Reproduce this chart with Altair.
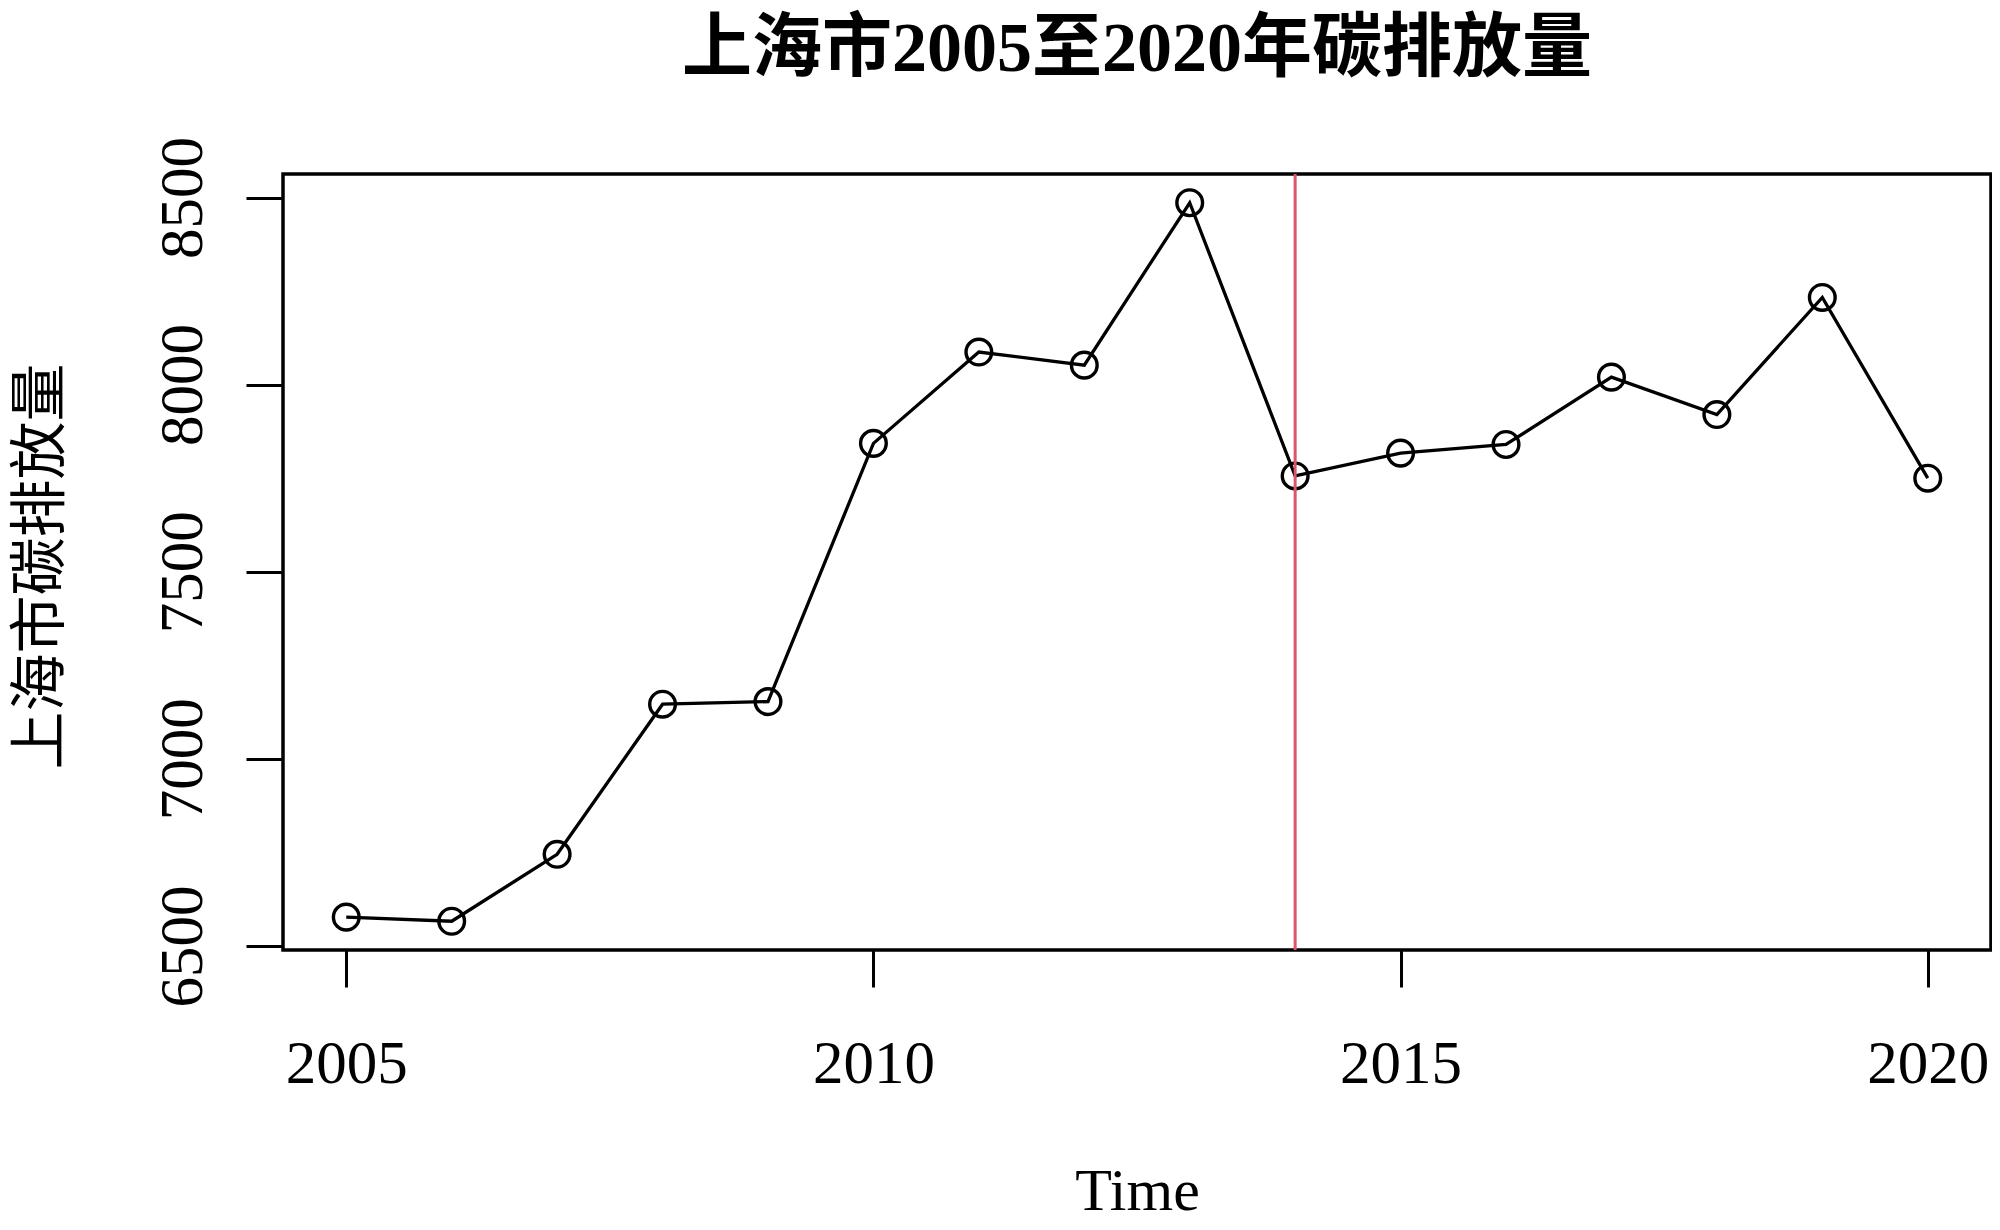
import altair as alt
import pandas as pd

years = [2005, 2006, 2007, 2008, 2009, 2010, 2011, 2012,
         2013, 2014, 2015, 2016, 2017, 2018, 2019, 2020]
emissions = [6577, 6566, 6745, 7146, 7153, 7843, 8087, 8052,
             8486, 7756, 7817, 7840, 8020, 7920, 8233, 7750]
x_ticks = [2005, 2010, 2015, 2020]
y_ticks = [6500, 7000, 7500, 8000, 8500]
break_year = 2014

title_text = "上海市2005至2020年碳排放量"
x_title = "Time"
y_title = "上海市碳排放量"

df = pd.DataFrame({"year": years, "value": emissions})
rule_df = pd.DataFrame({"year": [break_year]})

# R-style 4% axis extension
xr = max(years) - min(years)
yr = max(emissions) - min(emissions)
x_dom = [min(years) - 0.04 * xr, max(years) + 0.04 * xr]
y_dom = [min(emissions) - 0.04 * yr, max(emissions) + 0.04 * yr]

FONT = "Liberation Serif, Noto Sans CJK SC"

x_enc = alt.X(
    "year:Q",
    scale=alt.Scale(domain=x_dom, nice=False, zero=False),
    axis=alt.Axis(
        values=x_ticks, format="d", title=x_title, grid=False, domain=False,
        ticks=True, tickSize=37, tickWidth=3, tickColor="black",
        labelFont=FONT, labelFontSize=61, labelColor="black",
        labelPadding=95, labelBaseline="alphabetic", labelAlign="center",
        titleFont=FONT, titleFontSize=60, titleFontWeight="normal",
        titleColor="black", titleBaseline="alphabetic", titleAlign="center",
        titleX=854, titleY=259,
    ),
)
y_enc = alt.Y(
    "value:Q",
    scale=alt.Scale(domain=y_dom, nice=False, zero=False),
    axis=alt.Axis(
        values=y_ticks, format="d", title=y_title, grid=False, domain=False,
        ticks=True, tickSize=37, tickWidth=3, tickColor="black",
        labelFont=FONT, labelFontSize=61, labelColor="black",
        labelAngle=270, labelAlign="center", labelBaseline="alphabetic",
        labelPadding=45,
        titleFont=FONT, titleFontSize=58, titleFontWeight="normal",
        titleColor="black", titleAngle=270, titleAlign="center",
        titleBaseline="alphabetic", titleX=-225, titleY=392,
    ),
)

line = alt.Chart(df).mark_line(color="black", strokeWidth=3.3).encode(x=x_enc, y=y_enc)
pts = alt.Chart(df).mark_point(
    shape="circle", filled=False, size=660, strokeWidth=3.4, color="black", opacity=1
).encode(x="year:Q", y="value:Q")
rule = alt.Chart(rule_df).mark_rule(color="#DF536B", strokeWidth=3).encode(x="year:Q")

chart = alt.layer(line, pts, rule).properties(
    width=1708,
    height=776,
    autosize=alt.AutoSizeParams(type="none"),
    padding={"left": 275, "top": 166, "right": 1, "bottom": 272},
    background="white",
    title=alt.TitleParams(
        text=title_text, font=FONT, fontSize=70, fontWeight="bold",
        color="black", anchor="middle", frame="group",
        baseline="alphabetic", offset=0, dy=4,
    ),
).configure_view(stroke="black", strokeWidth=3.5)

chart.save("out.html", embed_options={"renderer": "svg", "actions": False})
